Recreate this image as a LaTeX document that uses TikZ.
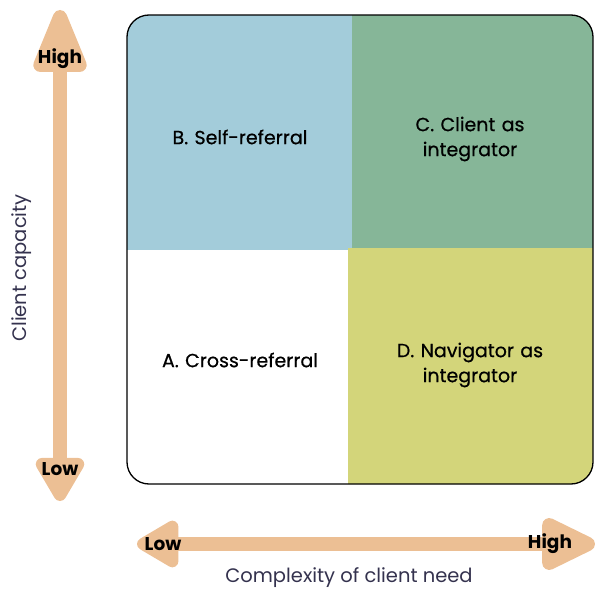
\documentclass[tikz,border=0pt]{standalone}
\usepackage{fontspec}
\setmainfont{Poppins}
\newfontfamily\quadfont[FakeBold=0.6]{Poppins}
\usetikzlibrary{arrows.meta,positioning}

\definecolor{selfblue}{RGB}{163,204,218}
\definecolor{clientgreen}{RGB}{134,182,152}
\definecolor{navyellow}{RGB}{211,213,122}
\definecolor{axistan}{RGB}{236,191,148}
\definecolor{axisink}{RGB}{52,50,78}

\begin{document}
\begin{tikzpicture}[x=1pt, y=-1pt,
    quad/.style={rectangle, inner sep=0pt, text width=7cm, align=center, font=\quadfont\fontsize{19}{25}\selectfont},
    axisend/.style={inner sep=0pt, font=\fontsize{18.5}{20}\selectfont\bfseries},
    axisname/.style={inner sep=0pt, text=axisink, font=\fontsize{19.5}{22}\selectfont}]
    \useasboundingbox (0,0) rectangle (595,591);

    % Quadrants, clipped by the rounded frame
    \begin{scope}
        \clip[rounded corners=22pt] (127,15) rectangle (593,484);
        \node [rectangle, fill=selfblue, minimum width=231pt, minimum height=235pt, anchor=north west] (self-referral) at (127,15) {};
        \node [rectangle, fill=navyellow, minimum width=245pt, minimum height=238pt, anchor=north west] (navigator) at (348,248) {};
        \node [rectangle, fill=clientgreen, minimum width=241pt, minimum height=233pt, anchor=north west] (client) at (352,15) {};
    \end{scope}
    \draw [line width=1.3pt, rounded corners=22pt] (127,15) rectangle (593,484);

    % Quadrant labels
    \node [quad] (self-label) at (240,137) {B. Self-referral};
    \node [quad] (client-label) at (470,139) {C. Client as\\integrator};
    \node [quad] (cross-label) at (240,360) {A. Cross-referral};
    \node [quad] (navigator-label) at (470,365) {D. Navigator as\\integrator};

    % Client capacity axis
    \coordinate (cap-top) at (60,10);
    \coordinate (cap-bottom) at (60,501);
    \draw [axistan, line width=14pt, line join=round,
        {Triangle[length=50pt, width=54pt, round]}-{Triangle[length=75pt, width=56pt, round]}] (cap-bottom) -- (cap-top);
    \node [axisend] (cap-high) at (60,59) {High};
    \node [axisend] (cap-low) at (60,469) {Low};
    \node [axisname, rotate=90] (cap-name) at (22,268) {Client capacity};

    % Complexity axis
    \coordinate (need-left) at (137,544);
    \coordinate (need-right) at (595,544);
    \draw [axistan, line width=14pt, line join=round,
        {Triangle[length=48pt, width=52pt, round]}-{Triangle[length=63pt, width=56pt, round]}] (need-left) -- (need-right);
    \node [axisend] (need-low) at (163,544) {Low};
    \node [axisend] (need-high) at (550,544) {High};
    \node [axisname] (need-name) at (349,578) {Complexity of client need};
\end{tikzpicture}
\end{document}
